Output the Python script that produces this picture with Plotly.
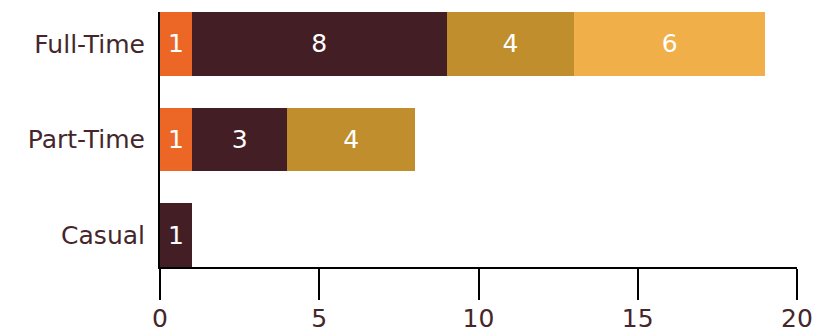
import plotly.graph_objects as go

categories = ["Full-Time", "Part-Time", "Casual"]
series_names = ["A", "B", "C", "D"]
series_values = [
    [1, 1, 0],
    [8, 3, 1],
    [4, 4, 0],
    [6, 0, 0],
]
colors = ["#EC6726", "#431F25", "#C08E2D", "#F0AF48"]
x_ticks = [0, 5, 10, 15, 20]

text_color = "#45262B"
font_family = "'DejaVu Sans', sans-serif"
fsize = 25

fig = go.Figure()
for name, vals, col in zip(series_names, series_values, colors):
    fig.add_trace(go.Bar(
        y=categories,
        x=vals,
        name=name,
        orientation="h",
        marker=dict(color=col, line=dict(width=0)),
        text=[str(v) if v else "" for v in vals],
        textposition="inside",
        insidetextanchor="middle",
        textangle=0,
        textfont=dict(color="white", size=25, family=font_family),
        hoverinfo="x+y",
    ))

fig.update_layout(
    barmode="stack",
    bargap=0.333,
    width=817,
    height=333,
    margin=dict(l=160, r=20, t=12, b=66),
    paper_bgcolor="white",
    plot_bgcolor="white",
    showlegend=False,
    font=dict(family=font_family, color=text_color, size=fsize),
    uniformtext=dict(mode="show", minsize=10),
)
fig.update_xaxes(
    range=[0, 20],
    tickvals=x_ticks,
    ticktext=[str(t) for t in x_ticks],
    showgrid=False,
    zeroline=False,
    showline=True,
    linecolor="black",
    linewidth=2,
    ticks="outside",
    ticklen=31,
    tickwidth=2,
    tickcolor="black",
    ticklabelstandoff=-3,
    tickfont=dict(size=fsize, color=text_color),
    automargin=False,
)
fig.update_yaxes(
    categoryorder="array",
    categoryarray=categories[::-1],
    range=[-0.333, 2.333],
    showgrid=False,
    zeroline=False,
    showline=True,
    linecolor="black",
    linewidth=2,
    ticks="",
    ticklabelstandoff=8,
    tickfont=dict(size=fsize, color=text_color),
    automargin=False,
)

fig.write_html("out.html")
